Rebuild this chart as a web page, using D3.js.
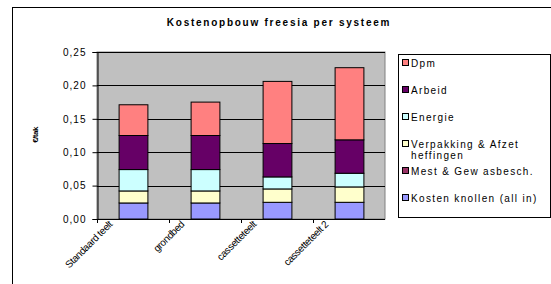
<!DOCTYPE html>
<html><head><meta charset="utf-8">
<script src="https://cdn.jsdelivr.net/npm/d3@7"></script>
<style>body{margin:0;background:#fff}text{font-family:"Liberation Sans",Arial,sans-serif}</style>
</head><body>
<svg id="c" width="551" height="284"></svg>
<script>
const categories = ["Standaard teelt", "grondbed", "cassetteteelt", "cassetteteelt 2"];
const seriesNames = ["Kosten knollen (all in)", "Mest & Gew asbesch.", "Verpakking & Afzet heffingen", "Energie", "Arbeid", "Dpm"];
const knollen = [0.024, 0.024, 0.025, 0.025];
const mest = [0, 0, 0, 0];
const verpakking = [0.018, 0.018, 0.020, 0.023];
const energie = [0.032, 0.032, 0.018, 0.0205];
const arbeid = [0.051, 0.051, 0.050, 0.050];
const dpm = [0.046, 0.050, 0.093, 0.108];
const colors = ["#9999FF", "#993366", "#FFFFCC", "#CCFFFF", "#660066", "#FF8080"];
const yTicks = [0, 0.05, 0.10, 0.15, 0.20, 0.25];
const title = "Kostenopbouw freesia per systeem";
const yTitle = "€/tak";

const svg = d3.select("#c");
const seriesVals = [knollen, mest, verpakking, energie, arbeid, dpm];
const data = categories.map((c, i) => {
  const o = {cat: c};
  seriesNames.forEach((s, j) => o[s] = seriesVals[j][i]);
  return o;
});
const stack = d3.stack().keys(seriesNames)(data);

// outer frame
svg.append("rect").attr("x", 12.5).attr("y", 7.5).attr("width", 560).attr("height", 300)
  .attr("fill", "#fff").attr("stroke", "#000").attr("stroke-width", 1);

const x = d3.scaleBand().domain(categories).range([97, 385]).paddingInner(0.6).paddingOuter(0.3);
const xb = d3.scaleBand().domain(categories).range([97, 385]);
const y = d3.scaleLinear().domain([0, 0.25]).range([219, 52]);

svg.append("rect").attr("x", 97).attr("y", y(0.25)).attr("width", 288).attr("height", y(0) - y(0.25))
  .attr("fill", "#C0C0C0").attr("stroke", "#808080");

svg.append("g").selectAll("line").data(yTicks.slice(1)).join("line")
  .attr("x1", 97).attr("x2", 385).attr("y1", d => Math.round(y(d)) + 0.5).attr("y2", d => Math.round(y(d)) + 0.5)
  .attr("stroke", "#000");

const fmt = d => d3.format(".2f")(d).replace(".", ",");
const yAxis = svg.append("g").attr("transform", "translate(97.5,0)")
  .call(d3.axisLeft(y).tickValues(yTicks).tickFormat(fmt).tickSize(5).tickPadding(6));
yAxis.select(".domain").attr("stroke", "#000");
yAxis.selectAll("text").attr("font-size", 10).attr("fill", "#000").style("letter-spacing", "1px")
  .attr("font-family", "Liberation Sans, Arial, sans-serif");

svg.append("g").selectAll("g").data(stack).join("g").attr("fill", (d, i) => colors[i])
  .selectAll("rect").data(d => d).join("rect")
  .attr("x", d => x(d.data.cat) + 0.5).attr("width", x.bandwidth())
  .attr("y", d => y(d[1])).attr("height", d => y(d[0]) - y(d[1]))
  .attr("stroke", "#000").attr("stroke-width", 1);

// x axis line and ticks at band boundaries
svg.append("line").attr("x1", 97).attr("x2", 385).attr("y1", 219.5).attr("y2", 219.5).attr("stroke", "#000");
svg.append("g").selectAll("line").data(categories).join("line")
  .attr("x1", d => xb(d) + 0.5).attr("x2", d => xb(d) + 0.5).attr("y1", 219).attr("y2", 223).attr("stroke", "#000");

svg.append("g").selectAll("text").data(categories).join("text")
  .attr("transform", d => `translate(${xb(d) + xb.bandwidth() / 2 - 20},225) rotate(-45)`)
  .attr("text-anchor", "end").attr("font-size", 10).style("letter-spacing", "-0.4px")
  .text(d => d);

svg.append("text").attr("x", 279).attr("y", 26).attr("text-anchor", "middle")
  .attr("font-size", 10).attr("font-weight", "bold").style("letter-spacing", "1.75px").text(title);

svg.append("text").attr("transform", "translate(38,135) rotate(-90)").attr("text-anchor", "middle")
  .attr("font-size", 8).attr("font-weight", "bold").style("letter-spacing", "-0.5px").text(yTitle);

// legend
const lg = svg.append("g");
lg.append("rect").attr("x", 398.5).attr("y", 54.5).attr("width", 152).attr("height", 163)
  .attr("fill", "#fff").attr("stroke", "#000");
const legItems = seriesNames.map((s, i) => ({name: s, color: colors[i]})).reverse();
const legY = [63, 90, 117, 144, 171, 198];
legItems.forEach((it, i) => {
  lg.append("rect").attr("x", 402.5).attr("y", legY[i] - 3.5).attr("width", 6).attr("height", 6)
    .attr("fill", it.color).attr("stroke", "#000");
  const parts = it.name === "Verpakking & Afzet heffingen" ? ["Verpakking & Afzet", "heffingen"] : [it.name];
  parts.forEach((p, k) => {
    lg.append("text").attr("x", 411).attr("y", legY[i] + 3.5 + k * 11).attr("font-size", 10)
      .style("letter-spacing", "1.35px").text(p);
  });
});
</script>
</body></html>
